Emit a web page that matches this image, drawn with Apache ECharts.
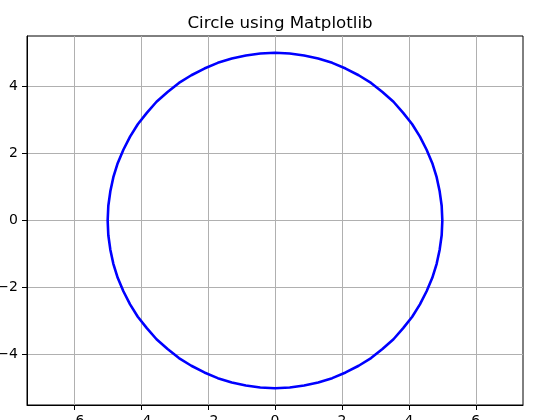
<!DOCTYPE html>
<html>
<head>
<meta charset="utf-8">
<script src="https://cdn.jsdelivr.net/npm/echarts@6/dist/echarts.min.js"></script>
<style>html,body{margin:0;padding:0;background:#fff}#c{width:533px;height:420px}</style>
</head>
<body>
<div id="c"></div>
<script>
// Circle points (every 5 degrees, radius 5)
var xValues = [5,4.98,4.92,4.83,4.70,4.53,4.33,4.10,3.83,3.54,3.21,2.87,2.5,2.11,1.71,1.29,0.87,0.44,0,
  -0.44,-0.87,-1.29,-1.71,-2.11,-2.5,-2.87,-3.21,-3.54,-3.83,-4.10,-4.33,-4.53,-4.70,-4.83,-4.92,-4.98,-5,
  -4.98,-4.92,-4.83,-4.70,-4.53,-4.33,-4.10,-3.83,-3.54,-3.21,-2.87,-2.5,-2.11,-1.71,-1.29,-0.87,-0.44,0,
  0.44,0.87,1.29,1.71,2.11,2.5,2.87,3.21,3.54,3.83,4.10,4.33,4.53,4.70,4.83,4.92,4.98,5];
var yValues = [0,0.44,0.87,1.29,1.71,2.11,2.5,2.87,3.21,3.54,3.83,4.10,4.33,4.53,4.70,4.83,4.92,4.98,5,
  4.98,4.92,4.83,4.70,4.53,4.33,4.10,3.83,3.54,3.21,2.87,2.5,2.11,1.71,1.29,0.87,0.44,0,
  -0.44,-0.87,-1.29,-1.71,-2.11,-2.5,-2.87,-3.21,-3.54,-3.83,-4.10,-4.33,-4.53,-4.70,-4.83,-4.92,-4.98,-5,
  -4.98,-4.92,-4.83,-4.70,-4.53,-4.33,-4.10,-3.83,-3.54,-3.21,-2.87,-2.5,-2.11,-1.71,-1.29,-0.87,-0.44,0];
var xTicks = [-6, -4, -2, 0, 2, 4, 6];
var yTicks = [-4, -2, 0, 2, 4];

var points = xValues.map(function (x, i) { return [x, yValues[i]]; });
function fmt(v) { return v < 0 ? '\u2212' + Math.abs(v) : String(v); }
var font = 'DejaVu Sans';

var chart = echarts.init(document.getElementById('c'), null, { renderer: 'canvas' });
chart.setOption({
  animation: false,
  backgroundColor: '#ffffff',
  title: {
    text: 'Circle using Matplotlib',
    left: 275, top: 10, textAlign: 'center',
    textStyle: { fontFamily: font, fontSize: 16.67, fontWeight: 'normal', color: '#000' }
  },
  grid: { left: 27, right: 10, top: 36, bottom: 15, show: true, borderColor: '#000', borderWidth: 1,
    backgroundColor: 'transparent', containLabel: false, outerBoundsMode: 'none' },
  xAxis: {
    type: 'value', min: -7.41, max: 7.41,
    axisLine: { show: true, onZero: false, lineStyle: { color: '#000', width: 1 } },
    axisTick: { show: true, length: 5, customValues: xTicks, lineStyle: { color: '#000' } },
    axisLabel: { margin: 9, customValues: xTicks, formatter: fmt, fontFamily: font, fontSize: 14, color: '#000' },
    splitLine: { show: true, lineStyle: { color: '#b0b0b0', width: 1 } }
  },
  yAxis: {
    type: 'value', min: -5.5, max: 5.5,
    axisLine: { show: true, onZero: false, lineStyle: { color: '#000', width: 1 } },
    axisTick: { show: true, length: 5, customValues: yTicks, lineStyle: { color: '#000' } },
    axisLabel: { margin: 9, customValues: yTicks, formatter: fmt, fontFamily: font, fontSize: 14, color: '#000' },
    splitLine: { show: true, lineStyle: { color: '#b0b0b0', width: 1 } }
  },
  series: [{
    type: 'line', data: points, smooth: false, showSymbol: false,
    lineStyle: { color: '#0000ff', width: 2.6 }
  }]
});
</script>
</body>
</html>
